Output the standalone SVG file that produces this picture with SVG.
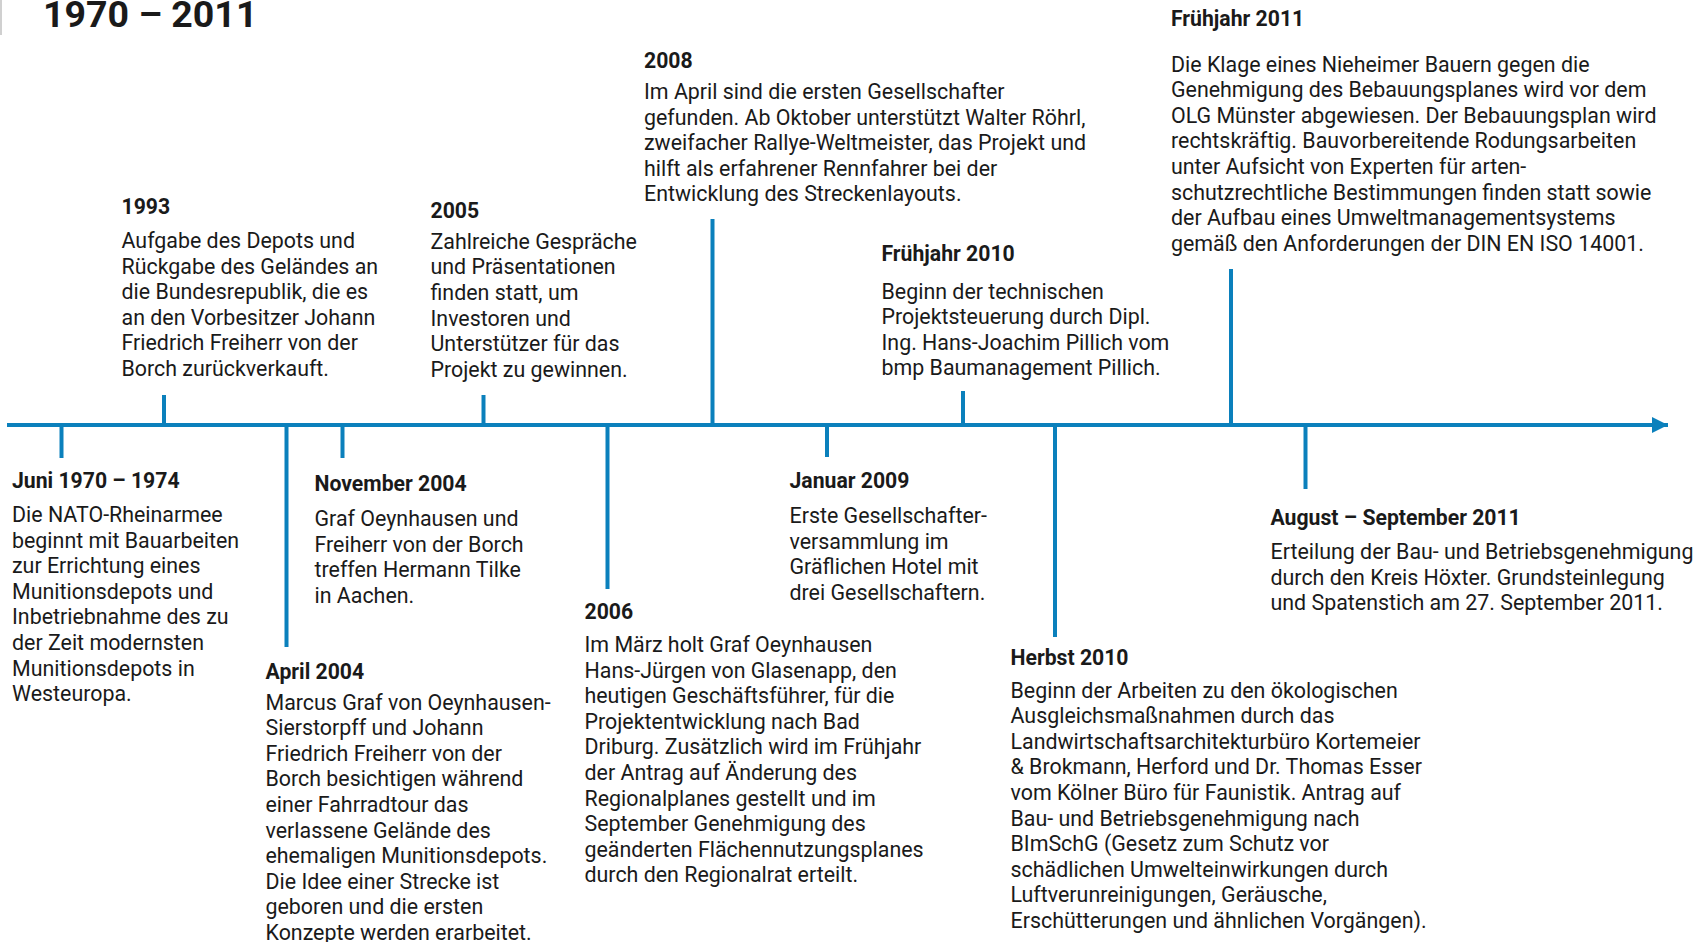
<svg xmlns="http://www.w3.org/2000/svg" width="1700" height="942" viewBox="0 0 1700 942">
<style>
.h{font-family:Roboto,"Liberation Sans",sans-serif;font-weight:700;font-size:21.2px;fill:#1a1a1a}
.b{font-family:Roboto,"Liberation Sans",sans-serif;font-size:21.4px;fill:#1a1a1a}
.t{font-family:Roboto,"Liberation Sans",sans-serif;font-weight:700;font-size:37.5px;fill:#1a1a1a}
.ln{stroke:#0b80bc;stroke-width:4;fill:none}
</style>
<defs>
<marker id="arr" markerUnits="userSpaceOnUse" markerWidth="18" markerHeight="16" refX="16" refY="8" orient="auto">
<path d="M0,0 L16,8 L0,16 Z" fill="#0b80bc"/>
</marker>
</defs>
<rect width="1700" height="942" fill="#fff"/>
<line x1="1" y1="0" x2="1" y2="35" stroke="#d0d0d0" stroke-width="2"/>
<text class="t" x="43" y="27">1970 – 2011</text>
<g id="connectors">
<line class="ln" x1="7" y1="425" x2="1668" y2="425" marker-end="url(#arr)"/>
<line class="ln" x1="61.5" y1="425" x2="61.5" y2="458"/>
<line class="ln" x1="164" y1="425" x2="164" y2="395"/>
<line class="ln" x1="286.5" y1="425" x2="286.5" y2="647"/>
<line class="ln" x1="342.5" y1="425" x2="342.5" y2="458"/>
<line class="ln" x1="483.5" y1="425" x2="483.5" y2="395"/>
<line class="ln" x1="607.5" y1="425" x2="607.5" y2="589"/>
<line class="ln" x1="712.5" y1="425" x2="712.5" y2="219"/>
<line class="ln" x1="827" y1="425" x2="827" y2="457"/>
<line class="ln" x1="963" y1="425" x2="963" y2="391"/>
<line class="ln" x1="1055" y1="425" x2="1055" y2="637"/>
<line class="ln" x1="1231" y1="425" x2="1231" y2="269"/>
<line class="ln" x1="1305.5" y1="425" x2="1305.5" y2="489"/>
</g>
<g id="n1970">
<text class="h" x="12" y="488">Juni 1970 – 1974</text>
<text class="b" x="12" y="522"><tspan x="12">Die NATO-Rheinarmee</tspan><tspan x="12" dy="25.6">beginnt mit Bauarbeiten</tspan><tspan x="12" dy="25.6">zur Errichtung eines</tspan><tspan x="12" dy="25.6">Munitionsdepots und</tspan><tspan x="12" dy="25.6">Inbetriebnahme des zu</tspan><tspan x="12" dy="25.6">der Zeit modernsten</tspan><tspan x="12" dy="25.6">Munitionsdepots in</tspan><tspan x="12" dy="25.6">Westeuropa.</tspan></text>
</g>
<g id="n1993">
<text class="h" x="121.5" y="213.5">1993</text>
<text class="b" x="121.5" y="248"><tspan x="121.5">Aufgabe des Depots und</tspan><tspan x="121.5" dy="25.6">Rückgabe des Geländes an</tspan><tspan x="121.5" dy="25.6">die Bundesrepublik, die es</tspan><tspan x="121.5" dy="25.6">an den Vorbesitzer Johann</tspan><tspan x="121.5" dy="25.6">Friedrich Freiherr von der</tspan><tspan x="121.5" dy="25.6">Borch zurückverkauft.</tspan></text>
</g>
<g id="nApr2004">
<text class="h" x="265.5" y="678.5">April 2004</text>
<text class="b" x="265.5" y="709.5"><tspan x="265.5">Marcus Graf von Oeynhausen-</tspan><tspan x="265.5" dy="25.6">Sierstorpff und Johann</tspan><tspan x="265.5" dy="25.6">Friedrich Freiherr von der</tspan><tspan x="265.5" dy="25.6">Borch besichtigen während</tspan><tspan x="265.5" dy="25.6">einer Fahrradtour das</tspan><tspan x="265.5" dy="25.6">verlassene Gelände des</tspan><tspan x="265.5" dy="25.6">ehemaligen Munitionsdepots.</tspan><tspan x="265.5" dy="25.6">Die Idee einer Strecke ist</tspan><tspan x="265.5" dy="25.6">geboren und die ersten</tspan><tspan x="265.5" dy="25.6">Konzepte werden erarbeitet.</tspan></text>
</g>
<g id="nNov2004">
<text class="h" x="314.5" y="490.5">November 2004</text>
<text class="b" x="314.5" y="526"><tspan x="314.5">Graf Oeynhausen und</tspan><tspan x="314.5" dy="25.6">Freiherr von der Borch</tspan><tspan x="314.5" dy="25.6">treffen Hermann Tilke</tspan><tspan x="314.5" dy="25.6">in Aachen.</tspan></text>
</g>
<g id="n2005">
<text class="h" x="430.5" y="217.5">2005</text>
<text class="b" x="430.5" y="248.7"><tspan x="430.5">Zahlreiche Gespräche</tspan><tspan x="430.5" dy="25.6">und Präsentationen</tspan><tspan x="430.5" dy="25.6">finden statt, um</tspan><tspan x="430.5" dy="25.6">Investoren und</tspan><tspan x="430.5" dy="25.6">Unterstützer für das</tspan><tspan x="430.5" dy="25.6">Projekt zu gewinnen.</tspan></text>
</g>
<g id="n2006">
<text class="h" x="584.5" y="618.5">2006</text>
<text class="b" x="584.5" y="652"><tspan x="584.5">Im März holt Graf Oeynhausen</tspan><tspan x="584.5" dy="25.6">Hans-Jürgen von Glasenapp, den</tspan><tspan x="584.5" dy="25.6">heutigen Geschäftsführer, für die</tspan><tspan x="584.5" dy="25.6">Projektentwicklung nach Bad</tspan><tspan x="584.5" dy="25.6">Driburg. Zusätzlich wird im Frühjahr</tspan><tspan x="584.5" dy="25.6">der Antrag auf Änderung des</tspan><tspan x="584.5" dy="25.6">Regionalplanes gestellt und im</tspan><tspan x="584.5" dy="25.6">September Genehmigung des</tspan><tspan x="584.5" dy="25.6">geänderten Flächennutzungsplanes</tspan><tspan x="584.5" dy="25.6">durch den Regionalrat erteilt.</tspan></text>
</g>
<g id="n2008">
<text class="h" x="644" y="68">2008</text>
<text class="b" x="644" y="99"><tspan x="644">Im April sind die ersten Gesellschafter</tspan><tspan x="644" dy="25.6">gefunden. Ab Oktober unterstützt Walter Röhrl,</tspan><tspan x="644" dy="25.6">zweifacher Rallye-Weltmeister, das Projekt und</tspan><tspan x="644" dy="25.6">hilft als erfahrener Rennfahrer bei der</tspan><tspan x="644" dy="25.6">Entwicklung des Streckenlayouts.</tspan></text>
</g>
<g id="nJan2009">
<text class="h" x="789.5" y="487.5">Januar 2009</text>
<text class="b" x="789.5" y="523"><tspan x="789.5">Erste Gesellschafter-</tspan><tspan x="789.5" dy="25.6">versammlung im</tspan><tspan x="789.5" dy="25.6">Gräflichen Hotel mit</tspan><tspan x="789.5" dy="25.6">drei Gesellschaftern.</tspan></text>
</g>
<g id="nFr2010">
<text class="h" x="881.5" y="260.5">Frühjahr 2010</text>
<text class="b" x="881.5" y="298.5"><tspan x="881.5">Beginn der technischen</tspan><tspan x="881.5" dy="25.6">Projektsteuerung durch Dipl.</tspan><tspan x="881.5" dy="25.6">Ing. Hans-Joachim Pillich vom</tspan><tspan x="881.5" dy="25.6">bmp Baumanagement Pillich.</tspan></text>
</g>
<g id="nHerbst2010">
<text class="h" x="1010.5" y="664.5">Herbst 2010</text>
<text class="b" x="1010.5" y="697.5"><tspan x="1010.5">Beginn der Arbeiten zu den ökologischen</tspan><tspan x="1010.5" dy="25.6">Ausgleichsmaßnahmen durch das</tspan><tspan x="1010.5" dy="25.6">Landwirtschaftsarchitekturbüro Kortemeier</tspan><tspan x="1010.5" dy="25.6">&amp; Brokmann, Herford und Dr. Thomas Esser</tspan><tspan x="1010.5" dy="25.6">vom Kölner Büro für Faunistik. Antrag auf</tspan><tspan x="1010.5" dy="25.6">Bau- und Betriebsgenehmigung nach</tspan><tspan x="1010.5" dy="25.6">BImSchG (Gesetz zum Schutz vor</tspan><tspan x="1010.5" dy="25.6">schädlichen Umwelteinwirkungen durch</tspan><tspan x="1010.5" dy="25.6">Luftverunreinigungen, Geräusche,</tspan><tspan x="1010.5" dy="25.6">Erschütterungen und ähnlichen Vorgängen).</tspan></text>
</g>
<g id="nFr2011">
<text class="h" x="1171" y="26">Frühjahr 2011</text>
<text class="b" x="1171" y="71.5"><tspan x="1171">Die Klage eines Nieheimer Bauern gegen die</tspan><tspan x="1171" dy="25.6">Genehmigung des Bebauungsplanes wird vor dem</tspan><tspan x="1171" dy="25.6">OLG Münster abgewiesen. Der Bebauungsplan wird</tspan><tspan x="1171" dy="25.6">rechtskräftig. Bauvorbereitende Rodungsarbeiten</tspan><tspan x="1171" dy="25.6">unter Aufsicht von Experten für arten-</tspan><tspan x="1171" dy="25.6">schutzrechtliche Bestimmungen finden statt sowie</tspan><tspan x="1171" dy="25.6">der Aufbau eines Umweltmanagementsystems</tspan><tspan x="1171" dy="25.6">gemäß den Anforderungen der DIN EN ISO 14001.</tspan></text>
</g>
<g id="nAug2011">
<text class="h" x="1270.5" y="524.5">August – September 2011</text>
<text class="b" x="1270.5" y="559"><tspan x="1270.5">Erteilung der Bau- und Betriebsgenehmigung</tspan><tspan x="1270.5" dy="25.6">durch den Kreis Höxter. Grundsteinlegung</tspan><tspan x="1270.5" dy="25.6">und Spatenstich am 27. September 2011.</tspan></text>
</g>
</svg>
